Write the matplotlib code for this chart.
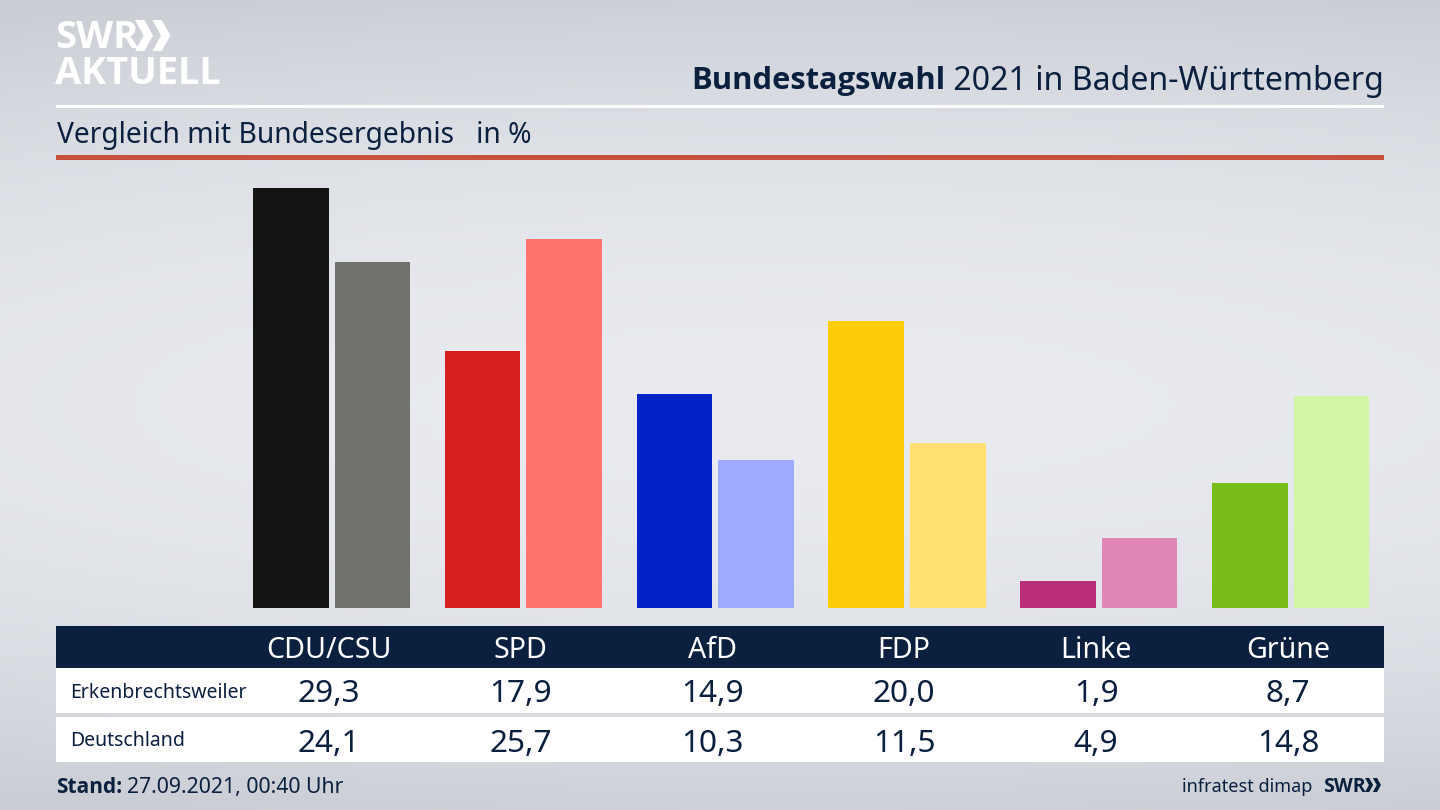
"""Bundestagswahl 2021 bar chart with a results table underneath."""
import matplotlib
matplotlib.use("Agg")
import matplotlib.pyplot as plt
from matplotlib.patches import Polygon, Rectangle
import numpy as np

WIDTH, HEIGHT = 1440, 810
PX_PER_UNIT = 14.34  # bar height scale
NAVY = "#0b1f3f"
BOLD_FAMILY = ["Open Sans", "DejaVu Sans"]

parties = ["CDU/CSU", "SPD", "AfD", "FDP", "Linke", "Grüne"]
erkenbrechtsweiler = [29.3, 17.9, 14.9, 20.0, 1.9, 8.7]
deutschland = [24.1, 25.7, 10.3, 11.5, 4.9, 14.8]
colors_local = ["#141414", "#d61f1f", "#0223c8", "#ffcc0a", "#bb2e79", "#78bc1b"]
colors_national = ["#72716e", "#ff736e", "#9eabff", "#ffe070", "#e086b6", "#d2f5a5"]
row_labels = ["Erkenbrechtsweiler", "Deutschland"]

plt.rcParams["font.family"] = ["Noto Sans", "DejaVu Sans"]

fig = plt.figure(figsize=(WIDTH / 100, HEIGHT / 100), dpi=100)

# Canvas in pixel coordinates, y pointing down like the reference
canvas = fig.add_axes([0, 0, 1, 1])
canvas.set_xlim(0, WIDTH)
canvas.set_ylim(HEIGHT, 0)
canvas.axis("off")

# Soft grey backdrop: lightest through the middle, darker to top, bottom, corners
yy, xx = np.mgrid[0:1:200j, 0:1:200j]
shade = np.clip(((yy - 0.5) / 0.5) ** 2 * 0.9 + ((xx - 0.55) / 0.9) ** 2 * 0.4, 0, 1)
light, dark = np.array([233, 235, 240]) / 255, np.array([202, 206, 212]) / 255
backdrop = light + (dark - light) * shade[..., None]
canvas.imshow(backdrop, extent=(0, WIDTH, HEIGHT, 0), aspect="auto", zorder=0)


def band(x0, y0, x1, y1, color):
    canvas.add_patch(Rectangle((x0, y0), x1 - x0, y1 - y0, color=color, lw=0, zorder=1))


def chevrons(x, y, h, color):
    # Two right-pointing chevrons of the SWR logo, with a gap between them
    w = h * 0.58
    t = h * 0.3
    for dx in (0, h * 0.56):
        pts = [(x + dx, y), (x + dx + t, y), (x + dx + w, y + h / 2),
               (x + dx + t, y + h), (x + dx, y + h), (x + dx + w - t, y + h / 2)]
        canvas.add_patch(Polygon(pts, closed=True, color=color, lw=0, zorder=2))


# Header
canvas.text(55, 38, "SWR", color="white", fontsize=27.5, fontweight="bold", family=BOLD_FAMILY, va="center", ha="left", zorder=2)
chevrons(135, 20, 31, "white")
canvas.text(55, 74, "AKTUELL", color="white", fontsize=27.3, fontweight="bold", family=BOLD_FAMILY, va="center", ha="left", zorder=2)
title = canvas.text(1384, 78, " 2021 in Baden-Württemberg", color=NAVY, fontsize=23.1, va="center_baseline", ha="right", zorder=2)
fig.canvas.draw()
title_left = title.get_window_extent().x0
canvas.text(title_left, 78, "Bundestagswahl", color=NAVY, fontsize=22.2, fontweight="bold", family=BOLD_FAMILY, va="center_baseline", ha="right", zorder=2)
band(56, 105, 1384, 108, "white")
canvas.text(57, 132, "Vergleich mit Bundesergebnis   in %", color=NAVY, fontsize=20.3, va="center_baseline", ha="left", zorder=2)
band(56, 155, 1384, 160, "#c9503f")

# Bars, on their own axes so the values go through the y scale
BAR_TOP, BAR_BASE = 160, 608
GROUP_X0, GROUP_STEP = 331.6, 191.8
ax = fig.add_axes([56 / WIDTH, 1 - BAR_BASE / HEIGHT, 1328 / WIDTH, (BAR_BASE - BAR_TOP) / HEIGHT])
ax.patch.set_alpha(0)
ax.set_xlim((56 - GROUP_X0) / GROUP_STEP, (1384 - GROUP_X0) / GROUP_STEP)
ax.set_ylim(0, (BAR_BASE - BAR_TOP) / PX_PER_UNIT)
ax.axis("off")
x = np.arange(len(parties))
bar_w = 75.5 / GROUP_STEP
offset = 40.8 / GROUP_STEP
ax.bar(x - offset, erkenbrechtsweiler, bar_w, color=colors_local, lw=0)
ax.bar(x + offset, deutschland, bar_w, color=colors_national, lw=0)

# Table
band(56, 626, 1384, 668, NAVY)
band(56, 668, 1384, 713, "white")
band(56, 717, 1384, 762, "white")
for i, party in enumerate(parties):
    cx = 328.5 + i * 191.9
    canvas.text(cx, 646.5, party, color="white", fontsize=20.6, ha="center", va="center_baseline", zorder=2)
    canvas.text(cx, 691, f"{erkenbrechtsweiler[i]:.1f}".replace(".", ","), color=NAVY, fontsize=22.7, ha="center", va="center_baseline", zorder=2)
    canvas.text(cx, 740, f"{deutschland[i]:.1f}".replace(".", ","), color=NAVY, fontsize=22.7, ha="center", va="center_baseline", zorder=2)
canvas.text(70, 690, row_labels[0], color=NAVY, fontsize=14, ha="left", va="center_baseline", zorder=2)
canvas.text(70, 739, row_labels[1], color=NAVY, fontsize=14, ha="left", va="center_baseline", zorder=2)

# Footer
stand = canvas.text(56, 785, "Stand:", color=NAVY, fontsize=15, fontweight="bold", family=BOLD_FAMILY, ha="left", va="center_baseline", zorder=2)
fig.canvas.draw()
stand_right = stand.get_window_extent().x1
canvas.text(stand_right + 5, 785, "27.09.2021, 00:40 Uhr", color=NAVY, fontsize=15.3, ha="left", va="center_baseline", zorder=2)
canvas.text(1312, 785, "infratest dimap", color=NAVY, fontsize=13, ha="right", va="center_baseline", zorder=2)
canvas.text(1323, 785, "SWR", color=NAVY, fontsize=14, fontweight="bold", family=BOLD_FAMILY, ha="left", va="center_baseline", zorder=2)
chevrons(1365, 778, 14, NAVY)

canvas.set_xlim(0, WIDTH)
canvas.set_ylim(HEIGHT, 0)
fig.savefig("out.png", dpi=100)
plt.close(fig)
